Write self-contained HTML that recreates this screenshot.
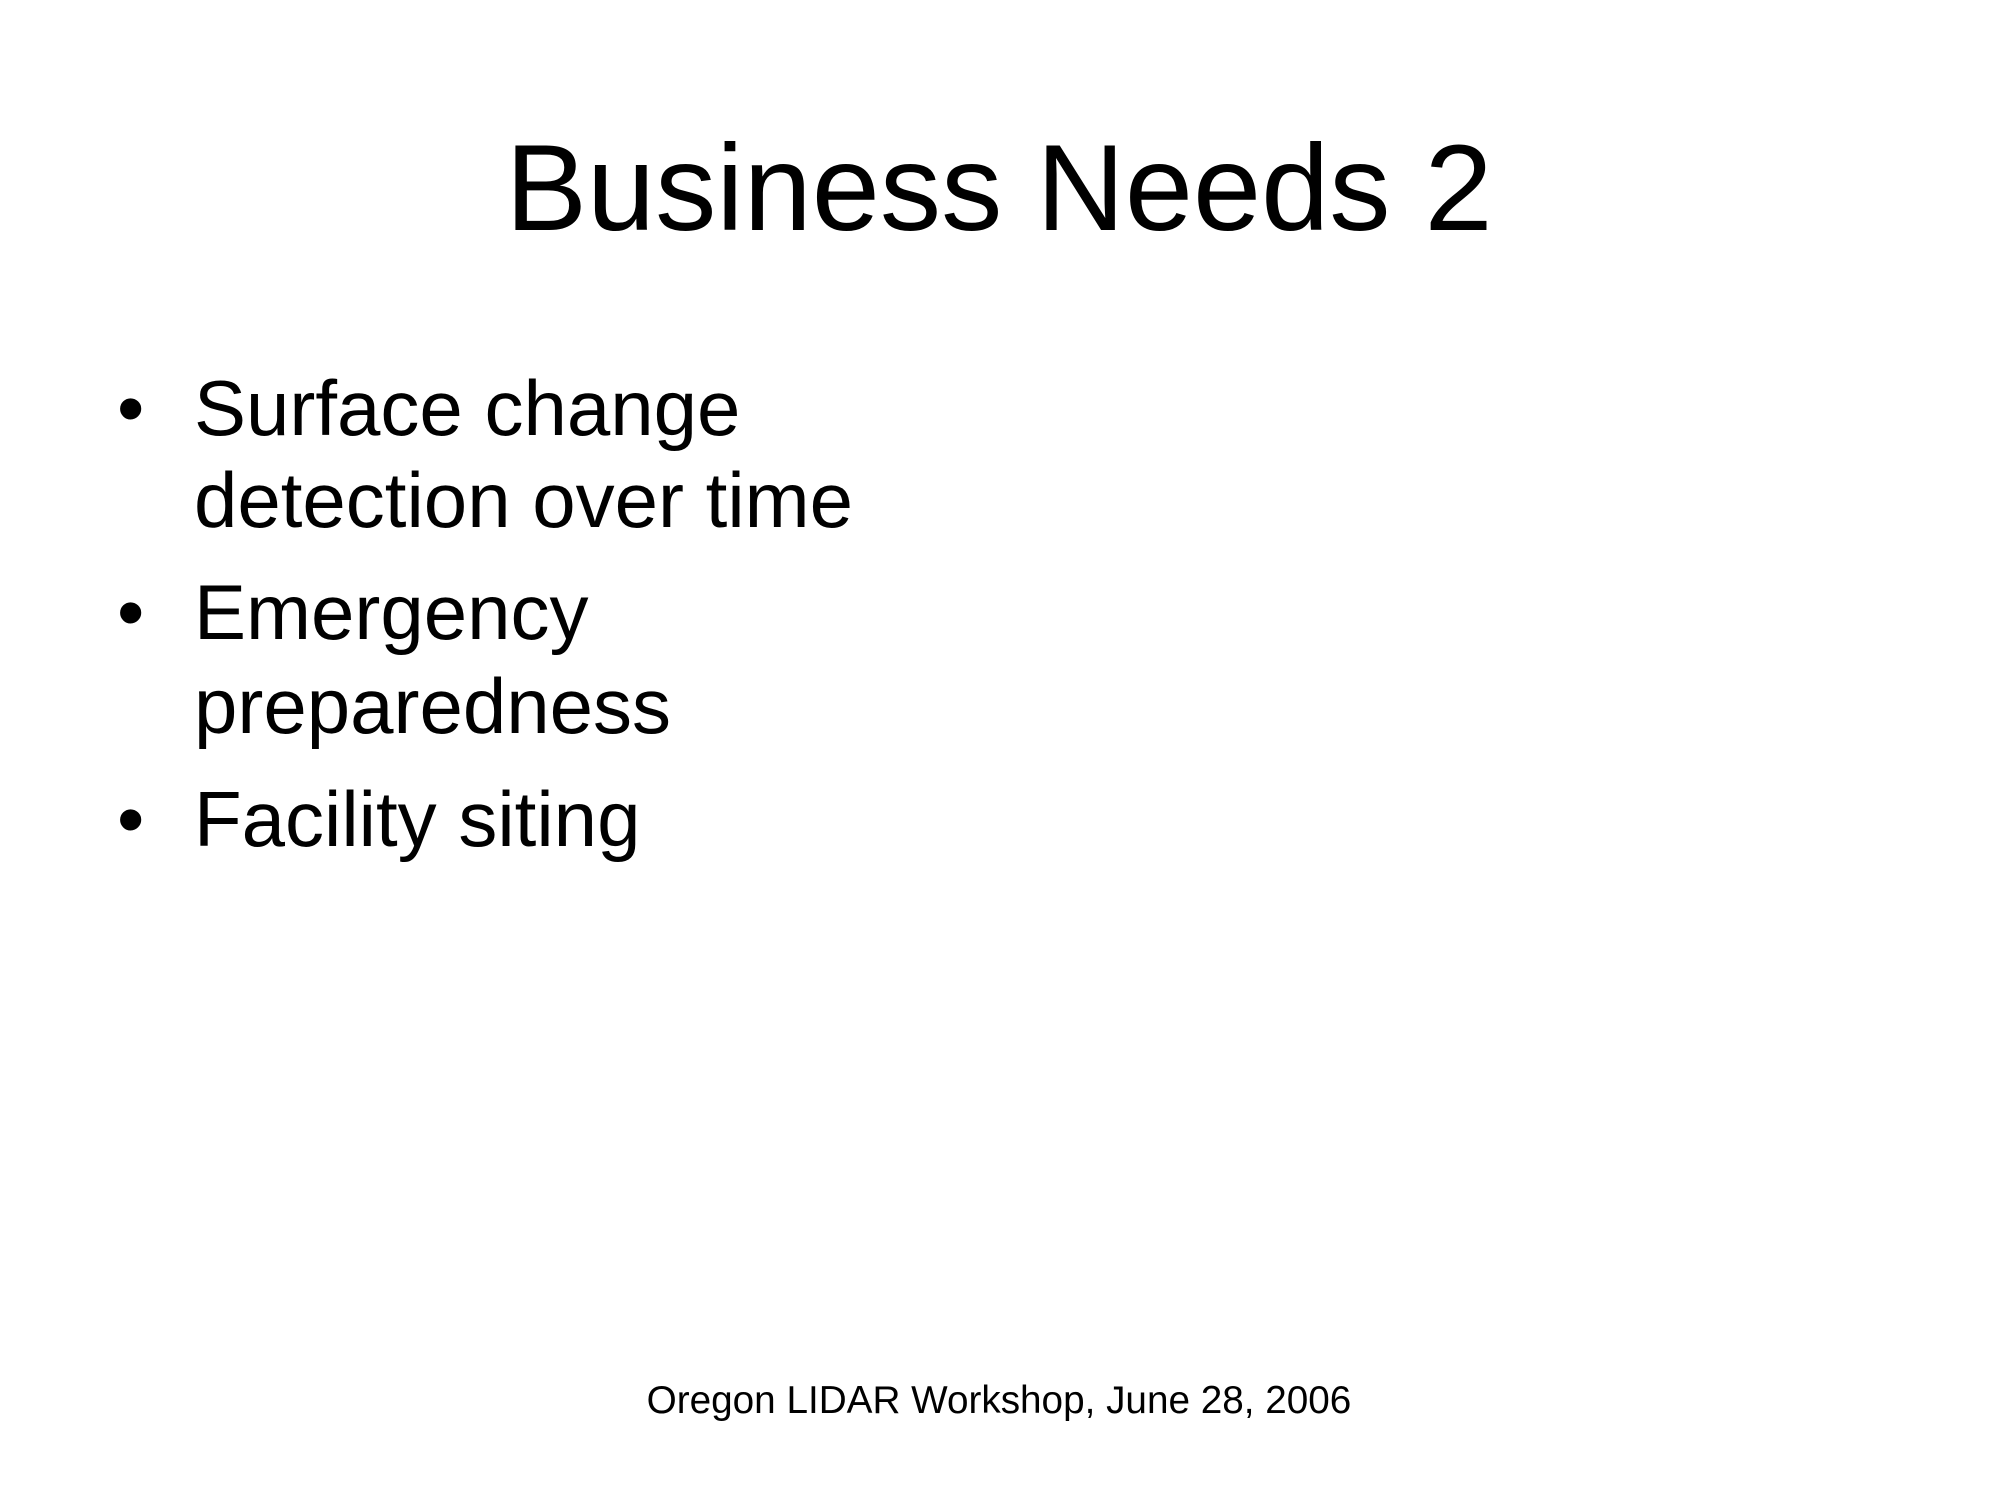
<!DOCTYPE html>
<html>
<head>
<meta charset="utf-8">
<style>
html,body{margin:0;padding:0;background:#fff;}
svg{display:block;}
text{font-family:"Liberation Sans",Arial,sans-serif;fill:#000;}
</style>
</head>
<body>
<svg width="2000" height="1500" viewBox="0 0 2000 1500">
  <rect x="0" y="0" width="2000" height="1500" fill="#fff"/>
  <text x="999" y="230" font-size="122.5" text-anchor="middle">Business Needs 2</text>
  <g font-size="78">
    <text x="117" y="435">•</text>
    <text x="194" y="435">Surface change</text>
    <text x="194" y="527">detection over time</text>
    <text x="117" y="639">•</text>
    <text x="194" y="639">Emergency</text>
    <text x="194" y="733">preparedness</text>
    <text x="117" y="846">•</text>
    <text x="194" y="846">Facility siting</text>
  </g>
  <text x="999" y="1413" font-size="38.7" text-anchor="middle">Oregon LIDAR Workshop, June 28, 2006</text>
</svg>
</body>
</html>
